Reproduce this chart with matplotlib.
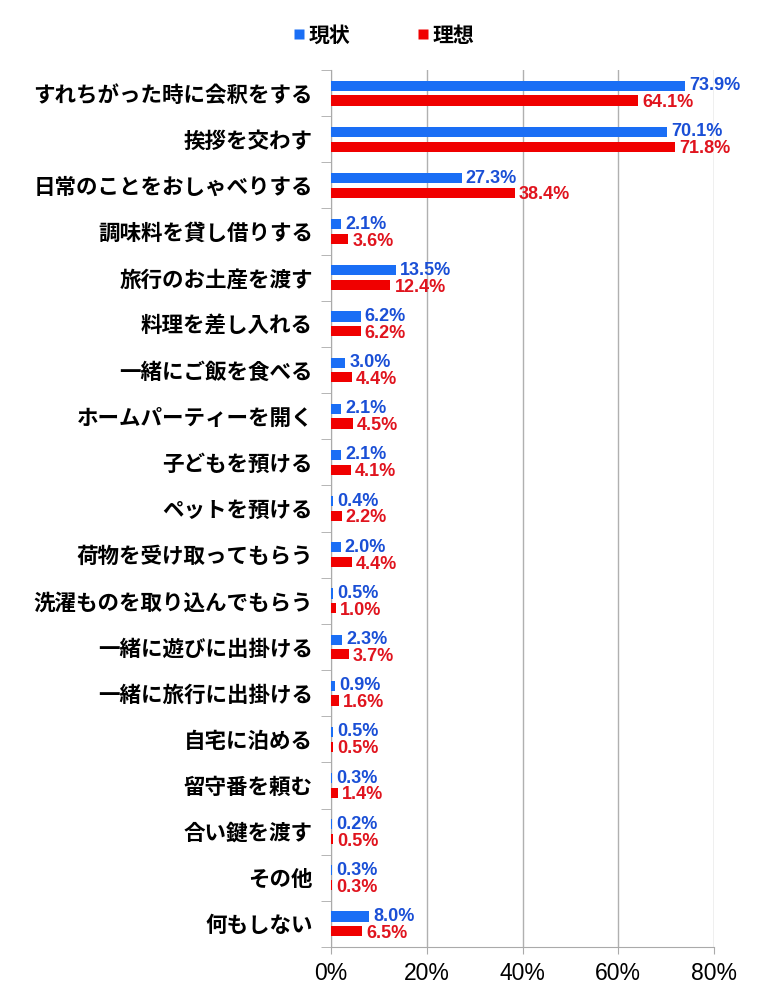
import matplotlib
matplotlib.use("Agg")
import matplotlib.pyplot as plt
from matplotlib.lines import Line2D
import numpy as np

plt.rcParams['font.family'] = ['Noto Sans CJK JP', 'DejaVu Sans']

categories = ["すれちがった時に会釈をする", "挨拶を交わす", "日常のことをおしゃべりする",
              "調味料を貸し借りする", "旅行のお土産を渡す", "料理を差し入れる",
              "一緒にご飯を食べる", "ホームパーティーを開く", "子どもを預ける",
              "ペットを預ける", "荷物を受け取ってもらう", "洗濯ものを取り込んでもらう",
              "一緒に遊びに出掛ける", "一緒に旅行に出掛ける", "自宅に泊める",
              "留守番を頼む", "合い鍵を渡す", "その他", "何もしない"]
current = [73.9, 70.1, 27.3, 2.1, 13.5, 6.2, 3.0, 2.1, 2.1, 0.4, 2.0, 0.5, 2.3, 0.9, 0.5, 0.3, 0.2, 0.3, 8.0]
ideal = [64.1, 71.8, 38.4, 3.6, 12.4, 6.2, 4.4, 4.5, 4.1, 2.2, 4.4, 1.0, 3.7, 1.6, 0.5, 1.4, 0.5, 0.3, 6.5]
series_names = ["現状", "理想"]
xticks = [0, 20, 40, 60, 80]

bar_blue = "#1a6ef5"
bar_red = "#f00000"
txt_blue = "#1a4fd6"
txt_red = "#e0141e"

fig = plt.figure(figsize=(7.67, 9.96), dpi=100)
ax = fig.add_axes([331/767, 1-947/996, (714-331)/767, (947-70)/996])

n = len(categories)
y = np.arange(n)
h = 0.22
off = 0.16
ax.barh(y - off, current, height=h, color=bar_blue, zorder=3)
ax.barh(y + off, ideal, height=h, color=bar_red, zorder=3)

lab_font = ['Liberation Sans', 'DejaVu Sans']
for yi, v in zip(y, current):
    ax.annotate(f"{v:.1f}%", (v, yi - off), xytext=(3, 0), textcoords="offset points",
                va="center", ha="left", color=txt_blue, fontsize=13, fontweight="bold",
                family=lab_font, zorder=4)
for yi, v in zip(y, ideal):
    ax.annotate(f"{v:.1f}%", (v, yi + off), xytext=(3, -1.5), textcoords="offset points",
                va="center", ha="left", color=txt_red, fontsize=13, fontweight="bold",
                family=lab_font, zorder=4)

ax.set_ylim(n - 0.5, -0.5)
ax.set_xlim(0, 80)
ax.set_xticks(xticks)
ax.set_xticklabels([f"{t}%" for t in xticks], fontsize=16.5, family=lab_font)
ax.set_yticks(y)
ax.set_yticklabels(categories, fontsize=15.5, fontweight="bold")
ax.tick_params(axis='y', length=0, pad=13)
ax.set_yticks(np.arange(n + 1) - 0.5, minor=True)
ax.tick_params(axis='y', which='minor', length=7, color="#aaaaaa", direction='out')
ax.tick_params(axis='x', length=5, color="#aaaaaa", pad=6)

ax.grid(axis='x', color="#b0b0b0", linewidth=1, zorder=0)
for s in ['top', 'right']:
    ax.spines[s].set_visible(False)
for s in ['left', 'bottom']:
    ax.spines[s].set_color("#aaaaaa")

handles = [Line2D([], [], marker='s', color='none', markerfacecolor=bar_blue, markeredgecolor='none', markersize=7),
           Line2D([], [], marker='s', color='none', markerfacecolor=bar_red, markeredgecolor='none', markersize=7)]
fig.legend(handles, series_names, loc='center', bbox_to_anchor=(0.5, 1-35/996), ncol=2,
           frameon=False, prop={'size': 15, 'weight': 'bold', 'family': ['Noto Sans CJK JP', 'DejaVu Sans']},
           handletextpad=0.15, columnspacing=3.2, handlelength=0.6)

fig.savefig("out.png", dpi=100)
